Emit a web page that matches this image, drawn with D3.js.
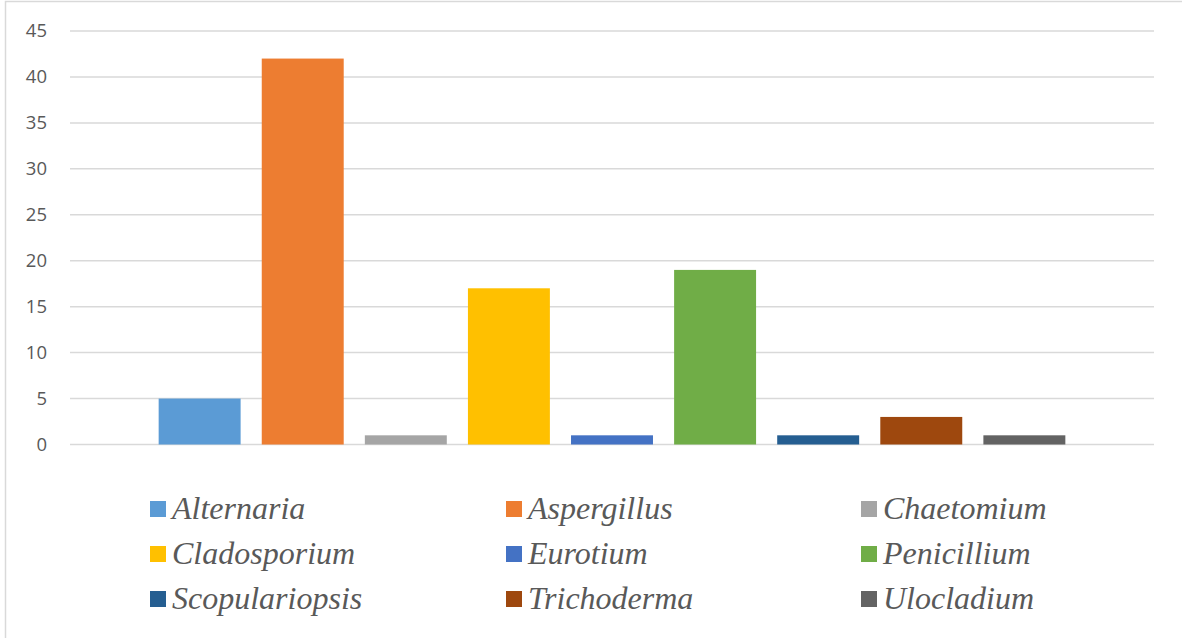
<!DOCTYPE html>
<html>
<head>
<meta charset="utf-8">
<script src="https://cdn.jsdelivr.net/npm/d3@7"></script>
<style>
  html, body { margin: 0; padding: 0; background: #fff; }
  svg { display: block; }
</style>
</head>
<body>
<svg id="chart" width="1182" height="638"></svg>
<script>
// Fungal genera and their isolate counts
const genera = ["Alternaria", "Aspergillus", "Chaetomium", "Cladosporium", "Eurotium",
                "Penicillium", "Scopulariopsis", "Trichoderma", "Ulocladium"];
const counts = [5, 42, 1, 17, 1, 19, 1, 3, 1];
const colors = ["#5B9BD5", "#ED7D31", "#A5A5A5", "#FFC000", "#4472C4",
                "#70AD47", "#255E91", "#9E480E", "#636363"];
const yTicks = [0, 5, 10, 15, 20, 25, 30, 35, 40, 45];

const svg = d3.select("#chart");

// chart frame
svg.append("rect")
  .attr("x", 5.5).attr("y", 1.5)
  .attr("width", 1200).attr("height", 700)
  .attr("fill", "none").attr("stroke", "#d9d9d9").attr("stroke-width", 1.5);

const plot = { left: 70, right: 1154, top: 31, bottom: 444.5 };

const y = d3.scaleLinear().domain([0, 45]).range([plot.bottom, plot.top]);
const x = d3.scaleBand().domain(genera)
  .range([plot.left, plot.right])
  .paddingInner(0.205).paddingOuter(0.86);

// horizontal gridlines
svg.append("g").selectAll("line").data(yTicks).join("line")
  .attr("x1", plot.left).attr("x2", plot.right)
  .attr("y1", d => y(d)).attr("y2", d => y(d))
  .attr("stroke", "#d9d9d9").attr("stroke-width", 1.5);

// y axis labels
const yAxis = d3.axisLeft(y).tickValues(yTicks).tickSize(0).tickPadding(0);
const gy = svg.append("g").attr("transform", "translate(47,0)").call(yAxis);
gy.select(".domain").remove();
gy.selectAll("text")
  .attr("font-family", "'Open Sans', sans-serif")
  .attr("font-size", 18.5).attr("fill", "#595959");

// bars
const data = genera.map((g, i) => ({ name: g, value: counts[i], color: colors[i] }));
svg.append("g").selectAll("rect").data(data).join("rect")
  .attr("x", d => x(d.name))
  .attr("width", x.bandwidth())
  .attr("y", d => y(d.value))
  .attr("height", d => y(0) - y(d.value))
  .attr("fill", d => d.color);

// legend: 3 columns x 3 rows
const colX = [150, 506, 861];
const rowY = [509, 554, 599];
const legend = svg.append("g").selectAll("g").data(data).join("g")
  .attr("transform", (d, i) => `translate(${colX[i % 3]},${rowY[Math.floor(i / 3)]})`);
legend.append("rect")
  .attr("x", 0).attr("y", -8).attr("width", 16).attr("height", 16)
  .attr("fill", d => d.color);
legend.append("text")
  .attr("x", 22).attr("y", 10)
  .attr("font-family", "'Liberation Serif', 'Times New Roman', serif")
  .attr("font-style", "italic")
  .attr("font-size", 32)
  .attr("fill", "#595959")
  .text(d => d.name);
</script>
</body>
</html>
